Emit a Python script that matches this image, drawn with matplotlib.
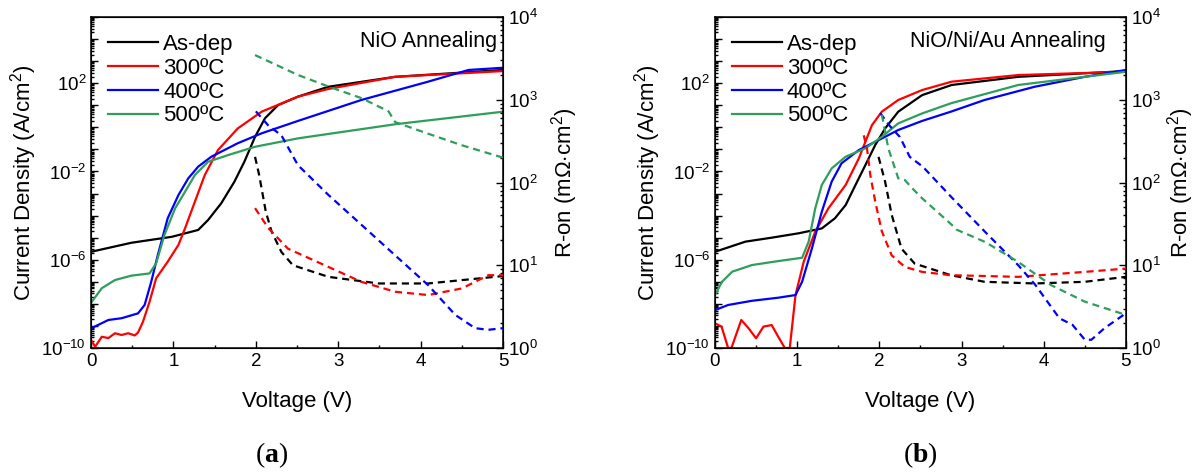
import matplotlib
matplotlib.use("Agg")
import matplotlib.pyplot as plt
import numpy as np
from matplotlib.ticker import LogLocator, FuncFormatter, MultipleLocator, NullFormatter

plt.rcParams['font.family'] = ['Liberation Sans', 'DejaVu Sans']
plt.rcParams['mathtext.fontset'] = 'custom'
plt.rcParams['mathtext.rm'] = 'Liberation Sans'
plt.rcParams['mathtext.it'] = 'Liberation Sans:italic'
plt.rcParams['mathtext.bf'] = 'Liberation Serif:bold'

# Series names and colours (legend order)
labels = ['As-dep', '300ºC', '400ºC', '500ºC']
colors = ['black', '#ff0000', '#0000ff', '#2e9e5b']

# ---------------- panel (a) : NiO annealing ----------------
# current density, log10(A/cm2)
a_v_black = [0, 0.49, 0.98, 1.30, 1.42, 1.58, 1.74, 1.86, 1.99, 2.11, 2.27, 2.51, 2.88, 3.69, 5.0]
a_j_black = [-5.64, -5.23, -4.96, -4.65, -4.2, -3.44, -2.46, -1.56, -0.43, 0.41, 1.01, 1.39, 1.84, 2.29, 2.6]

a_v_red = [0, 0.05, 0.13, 0.21, 0.29, 0.37, 0.45, 0.53, 0.57, 0.63, 0.71, 0.79, 0.93, 1.06, 1.14,
           1.26, 1.38, 1.54, 1.78, 2.07, 2.51, 2.88, 3.69, 5.0]
a_j_red = [-9.64, -9.94, -9.49, -9.55, -9.33, -9.41, -9.33, -9.43, -9.3, -8.81, -7.90, -6.84, -6.09, -5.33, -4.58,
           -3.37, -2.16, -1.03, -0.05, 0.71, 1.39, 1.74, 2.29, 2.55]

a_v_blue = [0, 0.21, 0.37, 0.57, 0.65, 0.73, 0.81, 0.93, 1.06, 1.18, 1.30, 1.46, 1.78, 2.07, 2.51,
            3.28, 4.09, 4.58, 5.0]
a_j_blue = [-9.11, -8.73, -8.65, -8.43, -8.05, -7.0, -5.79, -4.12, -3.07, -2.31, -1.78, -1.33, -0.72, -0.27, 0.29,
            1.24, 2.07, 2.6, 2.70]

a_v_green = [0, 0.13, 0.29, 0.49, 0.71, 0.79, 0.89, 1.02, 1.14, 1.26, 1.42, 1.66, 1.99, 2.51, 3.69, 5.0]
a_j_green = [-7.95, -7.29, -6.92, -6.72, -6.62, -6.16, -4.88, -3.67, -2.92, -2.16, -1.56, -1.26, -0.88, -0.50, 0.14, 0.71]

# R-on, log10(mOhm cm2)
a_rv_black = [1.99, 2.04, 2.12, 2.19, 2.31, 2.45, 2.88, 3.49, 4.09, 5.0]
a_r_black = [2.31, 2.09, 1.65, 1.41, 1.16, 1.0, 0.86, 0.78, 0.78, 0.87]

a_rv_red = [1.99, 2.15, 2.39, 2.88, 3.28, 3.69, 4.09, 4.5, 4.82, 5.0]
a_r_red = [1.69, 1.45, 1.20, 0.98, 0.80, 0.68, 0.64, 0.72, 0.88, 0.88]

a_rv_blue = [2.0, 2.15, 2.31, 2.51, 2.88, 3.28, 3.69, 4.09, 4.42, 4.66, 4.82, 5.0]
a_r_blue = [2.86, 2.69, 2.57, 2.21, 1.85, 1.49, 1.12, 0.76, 0.40, 0.24, 0.22, 0.24]

a_rv_green = [1.99, 2.51, 2.88, 3.28, 3.61, 3.69, 4.09, 4.5, 5.0]
a_r_green = [3.54, 3.30, 3.16, 3.02, 2.86, 2.73, 2.59, 2.45, 2.30]

# ---------------- panel (b) : NiO/Ni/Au annealing ----------------
b_v_black = [0, 0.37, 0.69, 1.02, 1.30, 1.46, 1.59, 1.71, 1.83, 1.95, 2.07, 2.23, 2.52, 2.88, 3.69, 5.0]
b_j_black = [-5.64, -5.18, -5.0, -4.80, -4.58, -4.12, -3.52, -2.61, -1.71, -0.80, -0.05, 0.71, 1.46, 1.92, 2.29, 2.55]

b_v_red = [0, 0.08, 0.16, 0.20, 0.32, 0.41, 0.50, 0.59, 0.69, 0.77, 0.85, 0.91, 0.98, 1.08, 1.22,
           1.38, 1.59, 1.75, 1.91, 2.03, 2.23, 2.52, 2.88, 3.69, 5.0]
b_j_red = [-8.88, -9.03, -10.0, -10.0, -8.73, -9.11, -9.56, -9.03, -8.96, -9.49, -10.0, -10.0, -7.60, -6.09, -4.73,
           -3.67, -2.61, -1.41, 0.10, 0.71, 1.24, 1.69, 2.07, 2.37, 2.52]

b_v_blue = [0, 0.16, 0.45, 0.77, 0.98, 1.06, 1.18, 1.30, 1.42, 1.54, 1.75, 1.99, 2.23, 2.52,
            2.87, 3.28, 3.89, 4.50, 5.0]
b_j_blue = [-8.28, -8.05, -7.86, -7.72, -7.60, -7.0, -5.48, -3.82, -2.46, -1.63, -1.03, -0.58, -0.12, 0.29,
            0.71, 1.24, 1.84, 2.29, 2.6]

b_v_green = [0, 0.085, 0.21, 0.45, 0.77, 1.06, 1.14, 1.22, 1.30, 1.42, 1.59, 1.83, 2.03, 2.23, 2.52,
             2.87, 3.69, 4.50, 5.0]
b_j_green = [-7.60, -7.0, -6.54, -6.24, -6.06, -5.91, -5.18, -3.67, -2.61, -1.86, -1.33, -0.95, -0.43, 0.18, 0.63,
             1.09, 1.92, 2.29, 2.52]

b_rv_black = [1.99, 2.07, 2.15, 2.27, 2.43, 2.87, 3.28, 3.89, 4.50, 5.0]
b_r_black = [2.31, 2.01, 1.61, 1.20, 1.02, 0.88, 0.80, 0.78, 0.80, 0.86]

b_rv_red = [1.81, 1.85, 1.89, 1.95, 2.03, 2.15, 2.31, 2.52, 2.87, 3.69, 4.50, 5.0]
b_r_red = [2.57, 2.41, 2.09, 1.77, 1.41, 1.12, 0.98, 0.92, 0.88, 0.86, 0.92, 0.96]

b_rv_blue = [2.01, 2.13, 2.25, 2.37, 2.53, 2.88, 3.29, 3.69, 3.90, 4.19, 4.35, 4.50, 4.58, 4.74, 5.0]
b_r_blue = [2.84, 2.68, 2.55, 2.31, 2.19, 1.82, 1.40, 1.0, 0.76, 0.36, 0.28, 0.10, 0.10, 0.24, 0.42]

b_rv_green = [2.03, 2.11, 2.23, 2.31, 2.40, 2.52, 2.88, 2.94, 3.29, 3.69, 4.09, 4.50, 5.0]
b_r_green = [2.82, 2.41, 2.05, 2.03, 1.93, 1.81, 1.49, 1.43, 1.28, 1.04, 0.76, 0.56, 0.40]


def left_fmt(y, pos):
    # only every 4th decade gets a label
    e = int(round(np.log10(y)))
    if e in (-10, -6, -2, 2):
        return r'$\mathregular{10^{%d}}$' % e
    return ''


def right_fmt(y, pos):
    e = int(round(np.log10(y)))
    return r'$\mathregular{10^{%d}}$' % e


def make_panel(rect, solid, dashed, title, title_x, caption, caption_x, rpad):
    ax = fig.add_axes(rect)
    ax2 = ax.twinx()

    # solid lines: current density on the left axis
    for (v, j), c, lab in zip(solid, colors, labels):
        ax.plot(v, 10 ** np.array(j), color=c, lw=1.6, label=lab)

    # dashed lines: R-on on the right axis
    for (v, r), c in zip(dashed, colors):
        ax2.plot(v, 10 ** np.array(r), color=c, lw=1.6, ls=(0, (3.2, 2.2)))

    ax.set_yscale('log')
    ax2.set_yscale('log')
    ax.set_xlim(0, 5)
    ax.set_ylim(1e-10, 1e5)
    ax2.set_ylim(1, 1e4)

    ax.xaxis.set_major_locator(MultipleLocator(1))
    ax.xaxis.set_minor_locator(MultipleLocator(0.5))
    ax.yaxis.set_major_locator(LogLocator(base=10, numticks=30))
    ax.yaxis.set_major_formatter(FuncFormatter(left_fmt))
    ax.yaxis.set_minor_locator(LogLocator(base=10, subs=np.arange(2, 10), numticks=30))
    ax.yaxis.set_minor_formatter(NullFormatter())
    ax2.yaxis.set_major_locator(LogLocator(base=10, numticks=10))
    ax2.yaxis.set_major_formatter(FuncFormatter(right_fmt))
    ax2.yaxis.set_minor_locator(LogLocator(base=10, subs=np.arange(2, 10), numticks=10))
    ax2.yaxis.set_minor_formatter(NullFormatter())

    ax.tick_params(which='both', direction='in', labelsize=13.5, top=False, right=False, width=1.0)
    ax.tick_params(which='major', length=5)
    ax.tick_params(which='minor', length=2.5)
    ax2.tick_params(which='both', direction='in', labelsize=13.5, width=1.0)
    ax2.tick_params(which='major', length=5)
    ax2.tick_params(which='minor', length=2.5)
    for s in ax.spines.values():
        s.set_linewidth(1.1)

    ax.set_xlabel('Voltage (V)', fontsize=16, labelpad=15)
    ax.set_ylabel(r'Current Density (A/cm$^2$)', fontsize=16, labelpad=2)
    ax2.set_ylabel(r'R-on (m$\Omega$$\cdot$cm$^2$)', fontsize=16, labelpad=rpad)

    ax.text(title_x, 0.925, title, transform=ax.transAxes, ha='right', va='center', fontsize=15.5)

    ax.legend(loc='upper left', bbox_to_anchor=(0.0, 1.0), frameon=False, fontsize=16,
              handlelength=2.25, handletextpad=0.22, labelspacing=0.125, borderaxespad=0.37)

    fig.text(caption_x, 0.04, caption, ha='center', va='center', fontsize=20, family='Liberation Serif')
    return ax


fig = plt.figure(figsize=(11.95, 4.74), dpi=100)

solid_a = [(a_v_black, a_j_black), (a_v_red, a_j_red), (a_v_blue, a_j_blue), (a_v_green, a_j_green)]
dashed_a = [(a_rv_black, a_r_black), (a_rv_red, a_r_red), (a_rv_blue, a_r_blue), (a_rv_green, a_r_green)]
solid_b = [(b_v_black, b_j_black), (b_v_red, b_j_red), (b_v_blue, b_j_blue), (b_v_green, b_j_green)]
dashed_b = [(b_rv_black, b_r_black), (b_rv_red, b_r_red), (b_rv_blue, b_r_blue), (b_rv_green, b_r_green)]

make_panel([0.0762, 0.2658, 0.3448, 0.6983], solid_a, dashed_a, 'NiO Annealing', 0.985,
           r'($\mathbf{a}$)', 0.227, 8)
make_panel([0.5983, 0.2658, 0.3439, 0.6983], solid_b, dashed_b, 'NiO/Ni/Au Annealing', 0.952,
           r'($\mathbf{b}$)', 0.770, 3)

fig.savefig('out.png', dpi=100)
